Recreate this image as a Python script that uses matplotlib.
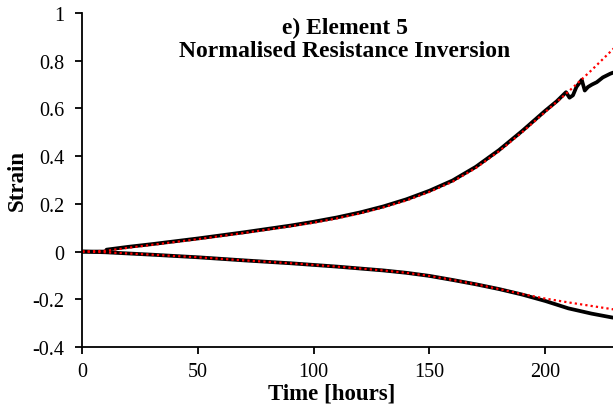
import matplotlib
matplotlib.use("Agg")
import matplotlib.pyplot as plt

plt.rcParams['font.family'] = ['Liberation Serif', 'DejaVu Serif']

# Upper curve (measured, black solid)
t_up_meas = [0, 10, 10.5, 20, 30, 40, 50, 60, 70, 80, 90, 100, 110, 120, 130, 140, 150,
             160, 170, 180, 190, 200, 205, 209, 210.5, 212, 213.5, 215.8, 217.1, 218.5,
             220.2, 222.3, 224.9, 228, 229.3]
v_up_meas = [0, 0, 0.008, 0.02, 0.031, 0.043, 0.055, 0.068, 0.081, 0.095, 0.109, 0.125,
             0.143, 0.164, 0.189, 0.219, 0.255, 0.298, 0.355, 0.425, 0.505, 0.59, 0.63,
             0.668, 0.645, 0.655, 0.69, 0.72, 0.675, 0.69, 0.70, 0.71, 0.73, 0.745, 0.75]
# Upper curve (model, red dotted)
t_up_model = [0, 10, 20, 30, 40, 50, 60, 70, 80, 90, 100, 110, 120, 130, 140, 150, 160,
              170, 180, 190, 200, 210, 220, 230]
v_up_model = [0, 0.003, 0.016, 0.028, 0.04, 0.052, 0.065, 0.078, 0.092, 0.106, 0.121,
              0.139, 0.16, 0.185, 0.214, 0.25, 0.293, 0.35, 0.42, 0.5, 0.585, 0.67,
              0.76, 0.855]
# Lower curve (measured, black solid)
t_lo_meas = [0, 10, 20, 30, 50, 70, 90, 100, 110, 120, 130, 140, 150, 160, 170, 180,
             190, 200, 210, 220, 229.3]
v_lo_meas = [0, -0.003, -0.008, -0.013, -0.024, -0.037, -0.049, -0.056, -0.063, -0.071,
             -0.079, -0.089, -0.102, -0.119, -0.137, -0.157, -0.18, -0.207, -0.238,
             -0.26, -0.277]
# Lower curve (model, red dotted)
t_lo_model = [0, 10, 20, 30, 50, 70, 90, 100, 110, 120, 130, 140, 150, 160, 170, 180,
              190, 200, 210, 220, 230]
v_lo_model = [0, -0.003, -0.008, -0.013, -0.024, -0.037, -0.049, -0.056, -0.063, -0.071,
              -0.079, -0.089, -0.102, -0.119, -0.137, -0.157, -0.178, -0.197, -0.213,
              -0.228, -0.243]

x_ticks = [0, 50, 100, 150, 200]
y_ticks = [-0.4, -0.2, 0, 0.2, 0.4, 0.6, 0.8, 1]
y_tick_labels = ['-0.4', '-0.2', '0', '0.2', '0.4', '0.6', '0.8', '1']

fig = plt.figure(figsize=(6.13, 4.14), dpi=100)
ax = fig.add_axes([82.3 / 613, 1 - 348 / 414, 1 - 82.3 / 613, (348 - 14) / 414])

ax.plot(t_up_meas, v_up_meas, color='black', lw=2.7, solid_capstyle='round')
ax.plot(t_lo_meas, v_lo_meas, color='black', lw=2.7, solid_capstyle='round')
ax.plot(t_up_model, v_up_model, color='red', lw=1.6, linestyle=(0, (1, 1.4)))
ax.plot(t_lo_model, v_lo_model, color='red', lw=1.6, linestyle=(0, (1, 1.4)))

ax.set_xlim(0, 229.3)
ax.set_ylim(-0.4, 1)
ax.set_xticks(x_ticks)
ax.set_yticks(y_ticks)
ax.set_yticklabels(y_tick_labels)
ax.spines['top'].set_visible(False)
ax.spines['right'].set_visible(False)
for s in ('left', 'bottom'):
    ax.spines[s].set_linewidth(1.3)
    ax.spines[s].set_clip_on(False)
ax.tick_params(direction='out', length=5, width=1.3, labelsize=14.5)
ax.tick_params(axis='y', pad=8)
ax.tick_params(axis='x', pad=6)

ax.set_xlabel('Time [hours]', fontsize=16.5, fontweight='bold')
ax.xaxis.set_label_coords((332 - 82.3) / (613 - 82.3), -(394 - 348) / 334, transform=ax.transAxes)
ax.set_ylabel('Strain', fontsize=16.5, fontweight='bold')
ax.yaxis.set_label_coords(-(82.3 - 17) / 530.7, 0.5)
ax.xaxis.label.set_va('center')
ax.yaxis.label.set_va('center')

ax.text((345 - 82.3) / 530.7, (348 - 40) / 334, 'e) Element 5\nNormalised Resistance Inversion',
        transform=ax.transAxes, ha='center', va='center', fontsize=17, fontweight='bold',
        linespacing=1.15)

fig.savefig('out.png', dpi=100)
